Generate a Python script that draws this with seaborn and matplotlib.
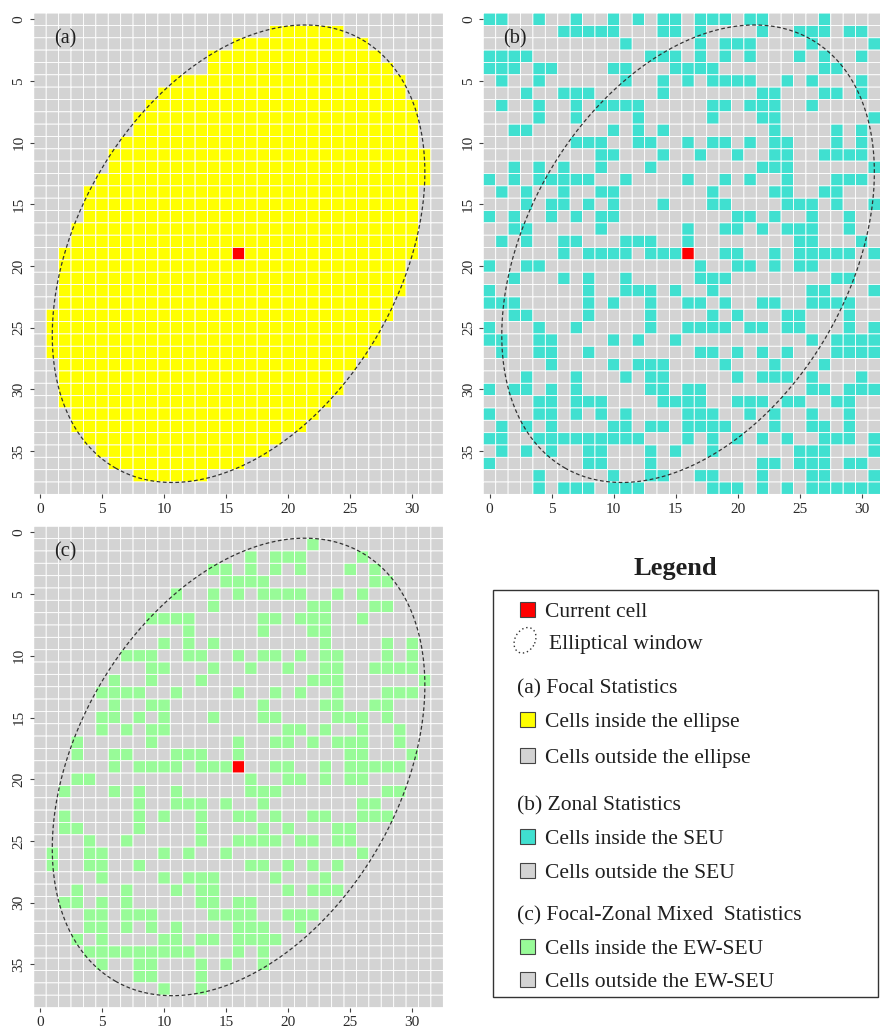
import numpy as np
import matplotlib
matplotlib.use("Agg")
import matplotlib.pyplot as plt
from matplotlib.colors import ListedColormap
from matplotlib.patches import Rectangle, Ellipse
import seaborn as sns

# ---------------------------------------------------------------- data
N_ROWS = 39
N_COLS = 33
CURRENT_CELL = (16, 19)          # (column, row)

# elliptical window: centre (column, row), semi-axes (cells), rotation (deg)
ELLIPSE_CENTER = (16.0, 19.0)
ELLIPSE_AXES = (20.0, 13.0)
ELLIPSE_ANGLE = 119.6

# first / last column of the cells falling inside the ellipse, per row
ELLIPSE_SPANS = [
    None, (19, 24), (16, 26), (14, 27), (14, 28), (11, 29), (10, 29),
    (9, 30), (8, 30), (8, 30), (7, 30), (6, 31), (6, 31), (5, 31),
    (4, 30), (4, 30), (4, 30), (3, 30), (3, 30), (2, 30), (2, 29),
    (2, 29), (2, 29), (2, 28), (1, 28), (1, 27), (1, 27), (1, 26),
    (2, 25), (2, 24), (2, 24), (2, 23), (3, 22), (3, 21), (4, 19),
    (5, 18), (6, 16), (8, 13), None,
]

# columns belonging to the standard estimation unit (SEU), per row
SEU_CELLS = [
    [0, 1, 4, 7, 10, 12, 14, 15, 17, 18, 19, 21, 22, 27],
    [6, 7, 8, 9, 10, 14, 15, 17, 22, 25, 26, 27, 29, 30],
    [11, 17, 19, 20, 21, 26, 31],
    [0, 1, 2, 3, 13, 14, 15, 17, 19, 21, 25, 27, 30],
    [0, 1, 2, 4, 5, 10, 11, 15, 16, 17, 18, 27, 28],
    [1, 4, 11, 14, 16, 18, 19, 20, 21, 24, 26, 30],
    [3, 6, 7, 8, 14, 22, 23, 27, 28, 30],
    [1, 4, 7, 9, 10, 11, 12, 18, 19, 21, 22, 23, 26],
    [4, 7, 12, 18, 22, 23, 31],
    [2, 3, 10, 12, 14, 23, 28, 30],
    [7, 8, 9, 12, 13, 16, 18, 19, 21, 23, 24, 28, 30],
    [9, 10, 14, 17, 20, 23, 24, 27, 28, 29, 30],
    [2, 4, 6, 9, 13, 22, 23, 24, 31],
    [0, 2, 4, 5, 6, 7, 8, 11, 16, 19, 21, 24, 28, 29, 30],
    [1, 3, 6, 9, 10, 18, 23, 24, 27, 28],
    [3, 5, 6, 8, 10, 14, 18, 19, 24, 25, 26, 28, 31],
    [0, 2, 5, 7, 9, 10, 20, 21, 23, 26, 29],
    [2, 3, 9, 16, 19, 20, 22, 24, 25, 26, 29],
    [1, 3, 6, 7, 11, 12, 13, 16, 25, 26, 30],
    [6, 8, 9, 10, 11, 13, 14, 15, 19, 20, 23, 25, 26, 27, 28, 29, 31],
    [0, 3, 4, 17, 20, 21, 23, 25, 26],
    [2, 6, 8, 11, 17, 18, 19, 28, 29],
    [0, 8, 11, 12, 13, 15, 18, 26, 27, 31],
    [0, 1, 2, 8, 10, 13, 16, 17, 19, 22, 23, 26, 27, 28, 29],
    [2, 3, 8, 13, 18, 20, 24, 25, 29],
    [0, 4, 7, 13, 16, 17, 18, 19, 21, 22, 24, 25, 29, 31],
    [0, 1, 4, 5, 10, 12, 15, 26, 28, 29, 30, 31],
    [1, 4, 5, 8, 17, 18, 20, 22, 24, 28, 29, 30, 31],
    [5, 10, 12, 13, 14, 19, 23, 27],
    [3, 7, 11, 13, 14, 20, 22, 23, 24, 26, 30],
    [0, 2, 3, 5, 7, 13, 14, 16, 17, 26, 27, 29, 30, 31],
    [4, 5, 7, 8, 9, 14, 15, 16, 17, 20, 21, 22, 24, 25, 28, 29],
    [0, 4, 5, 7, 9, 11, 16, 17, 18, 21, 23, 26, 29],
    [1, 3, 5, 10, 11, 13, 14, 16, 17, 18, 19, 23, 26, 27, 29],
    [0, 1, 4, 5, 6, 7, 8, 9, 10, 11, 12, 16, 18, 20, 22, 24, 27, 28, 29, 31],
    [1, 3, 5, 8, 9, 13, 15, 18, 25, 26, 27, 31],
    [0, 8, 9, 13, 22, 23, 25, 26, 27, 29, 30],
    [4, 10, 13, 14, 17, 18, 22, 26, 27, 31],
    [4, 6, 7, 8, 10, 11, 12, 18, 19, 20, 22, 24, 26, 27, 28, 29, 30, 31],
]

X_TICKS = [0, 5, 10, 15, 20, 25, 30]
Y_TICKS = [0, 5, 10, 15, 20, 25, 30, 35]
PANEL_LABELS = ["(a)", "(b)", "(c)"]

LEGEND_TITLE = "Legend"
LEGEND_ROWS = [
    ("swatch", "red", "Current cell"),
    ("ellipse", None, "Elliptical window"),
    ("header", None, "(a) Focal Statistics"),
    ("swatch", "yellow", "Cells inside the ellipse"),
    ("swatch", "grey", "Cells outside the ellipse"),
    ("header", None, "(b) Zonal Statistics"),
    ("swatch", "cyan", "Cells inside the SEU"),
    ("swatch", "grey", "Cells outside the SEU"),
    ("header", None, "(c) Focal-Zonal Mixed  Statistics"),
    ("swatch", "green", "Cells inside the EW-SEU"),
    ("swatch", "grey", "Cells outside the EW-SEU"),
]

# ---------------------------------------------------------------- style
COLORS = {"grey": "#D3D3D3", "yellow": "#FFFF00", "cyan": "#40E0D0",
          "green": "#98FB98", "red": "#FF0000"}
TEXT = "#1f1f1f"

plt.rcParams["font.family"] = ["Liberation Serif", "DejaVu Serif"]

W, H = 880, 1027
fig = plt.figure(figsize=(W / 100, H / 100), dpi=100)
fig.patch.set_facecolor("white")

CELL_W, CELL_H = 12.41, 12.34


def px_axes(left, top, ncols, nrows):
    w = ncols * CELL_W
    h = nrows * CELL_H
    return fig.add_axes([left / W, 1 - (top + h) / H, w / W, h / H])


# ---------------------------------------------------------------- grids
cx, cy = CURRENT_CELL
ellipse_mask = np.zeros((N_ROWS, N_COLS), dtype=bool)
for r, span in enumerate(ELLIPSE_SPANS):
    if span is not None:
        ellipse_mask[r, span[0]:span[1] + 1] = True

seu_mask = np.zeros((N_ROWS, N_COLS), dtype=bool)
for r, cols in enumerate(SEU_CELLS):
    seu_mask[r, cols] = True

grid_a = ellipse_mask.astype(int)
grid_b = seu_mask[:, :32].astype(int)
grid_c = (ellipse_mask & seu_mask).astype(int)
for g in (grid_a, grid_b, grid_c):
    g[cy, cx] = 2

panels = [
    (grid_a, "yellow", px_axes(33.8, 13.1, N_COLS, N_ROWS)),
    (grid_b, "cyan", px_axes(483.3, 13.1, 32, N_ROWS)),
    (grid_c, "green", px_axes(33.8, 526.3, N_COLS, N_ROWS)),
]

t = np.linspace(0, 2 * np.pi, 600)
th = np.deg2rad(ELLIPSE_ANGLE)
a_ax, b_ax = ELLIPSE_AXES
ex = ELLIPSE_CENTER[0] + a_ax * np.cos(t) * np.cos(th) - b_ax * np.sin(t) * np.sin(th) + 0.5
ey = ELLIPSE_CENTER[1] + a_ax * np.cos(t) * np.sin(th) + b_ax * np.sin(t) * np.cos(th) + 0.5

for (grid, key, ax), label in zip(panels, PANEL_LABELS):
    cmap = ListedColormap([COLORS["grey"], COLORS[key], COLORS["red"]])
    sns.heatmap(grid, ax=ax, cmap=cmap, vmin=-0.5, vmax=2.5, cbar=False,
                linewidths=0.6, linecolor="white", antialiased=True,
                snap=False, xticklabels=False, yticklabels=False)
    ax.plot(ex, ey, color="#333333", lw=0.9, ls=(0, (3, 2)), zorder=5)
    ax.set_xlim(0, grid.shape[1])
    ax.set_ylim(grid.shape[0], 0)
    ax.set_xticks([v + 0.5 for v in X_TICKS])
    ax.set_xticklabels([str(v) for v in X_TICKS])
    ax.set_yticks([v + 0.5 for v in Y_TICKS])
    ax.set_yticklabels([str(v) for v in Y_TICKS], rotation=90, va="center")
    ax.tick_params(axis="both", length=3, width=0.8, color="#444444",
                   labelsize=11, labelcolor="#2a2a2a")
    ax.tick_params(axis="x", pad=3)
    ax.tick_params(axis="y", pad=3)
    for s in ax.spines.values():
        s.set_visible(False)
    ax.text(1.6, 2.1, label, fontsize=14.5, color=TEXT, ha="left", va="center")

# ---------------------------------------------------------------- legend
lax = fig.add_axes([0, 0, 1, 1])
lax.set_xlim(0, W)
lax.set_ylim(H, 0)
lax.axis("off")

lax.text(675, 575, LEGEND_TITLE, fontsize=19, fontweight="bold", color=TEXT,
         ha="center", va="baseline")
lax.add_patch(Rectangle((493, 590), 385, 407, fill=False, ec="#333333", lw=1.0))

baselines = [616.7, 649.3, 693.3, 727.3, 762.7, 810.0, 844.3, 877.7,
             920.0, 954.3, 986.7]
for (kind, key, text), yb in zip(LEGEND_ROWS, baselines):
    if kind == "swatch":
        lax.add_patch(Rectangle((519.5, yb - 15), 15, 15, fc=COLORS[key],
                                ec="#444444", lw=0.8))
        lax.text(545, yb, text, fontsize=15.5, color=TEXT, va="baseline")
    elif kind == "ellipse":
        lax.add_patch(Ellipse((525, yb - 9), 27, 20, angle=ELLIPSE_ANGLE,
                              fill=False, ec="#333333", lw=1.0, ls=(0, (1, 2))))
        lax.text(549.3, yb, text, fontsize=15.5, color=TEXT, va="baseline")
    else:
        lax.text(516.7, yb, text, fontsize=15.5, color=TEXT, va="baseline")

fig.savefig("out.png", dpi=100, facecolor="white")
